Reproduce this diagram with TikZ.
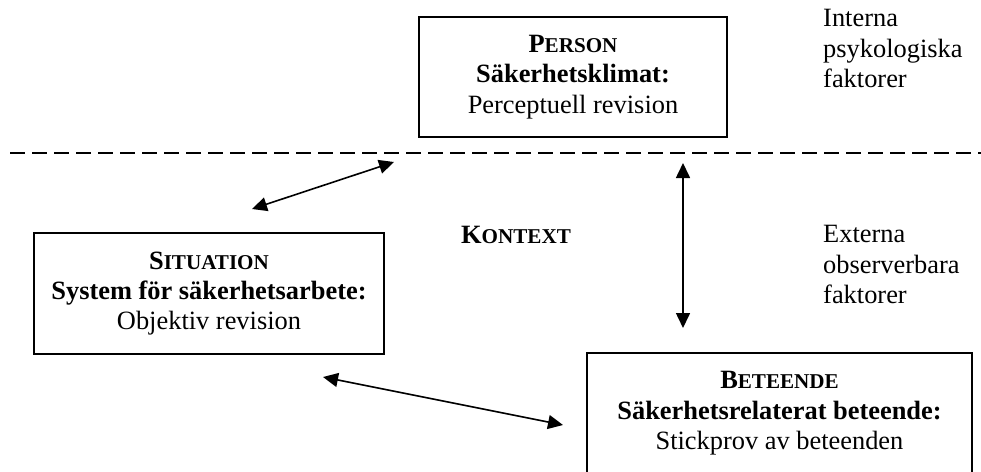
\documentclass[tikz,border=0pt]{standalone}
\usepackage{fontspec}
\setmainfont{Liberation Serif}
\usetikzlibrary{arrows.meta}
\newcommand\mysc[2]{#1{\fontsize{21.1}{30.4}\selectfont #2}}
\tikzset{
  box/.style={draw, line width=1.8pt, inner sep=0pt, align=center, font=\fontsize{26.4}{30.4}\selectfont},
  txt/.style={inner sep=0pt, align=left, font=\fontsize{26.4}{30.4}\selectfont},
  dbl/.style={line width=1.6pt, {Triangle[length=15pt,width=14pt]}-{Triangle[length=15pt,width=14pt]}},
  sep/.style={line width=1.8pt, dash pattern=on 15pt off 7pt}
}
\begin{document}
\begin{tikzpicture}[x=1pt,y=-1pt]
\clip (0,0) rectangle (981,471);
\fill[white] (0,0) rectangle (981,471);
% dashed separator
\coordinate (dl) at (10,153);
\coordinate (dr) at (981,153);
\draw[sep] (dl) -- (dr);
% boxes
\node[box, minimum width=308pt, minimum height=120pt] (person) at (573,77)
  {\textbf{\mysc{P}{ERSON}}\\ \textbf{Säkerhetsklimat:}\\ Perceptuell revision};
\node[box, minimum width=350pt, minimum height=121pt] (situation) at (209,293.5)
  {\textbf{\mysc{S}{ITUATION}}\\ \textbf{System för säkerhetsarbete:}\\ Objektiv revision};
\node[box, minimum width=385pt, minimum height=121pt] (beteende) at (779.5,413.5)
  {\textbf{\mysc{B}{ETEENDE}}\\ \textbf{Säkerhetsrelaterat beteende:}\\ Stickprov av beteenden};
% labels
\node[txt, anchor=base] (kontext) at (516,243) {\textbf{\mysc{K}{ONTEXT}}};
\node[txt, anchor=north west] (interna) at (823,9.5) {Interna\\psykologiska\\faktorer};
\node[txt, anchor=north west] (externa) at (823,225.5) {Externa\\observerbara\\faktorer};
% arrows
\coordinate (a1s) at (252,209);
\coordinate (a1e) at (394,162);
\coordinate (a2s) at (683,163);
\coordinate (a2e) at (683,328);
\coordinate (a3s) at (323,377);
\coordinate (a3e) at (563,425);
\draw[dbl] (a1s) -- (a1e);
\draw[dbl] (a2s) -- (a2e);
\draw[dbl] (a3s) -- (a3e);
\end{tikzpicture}
\end{document}
